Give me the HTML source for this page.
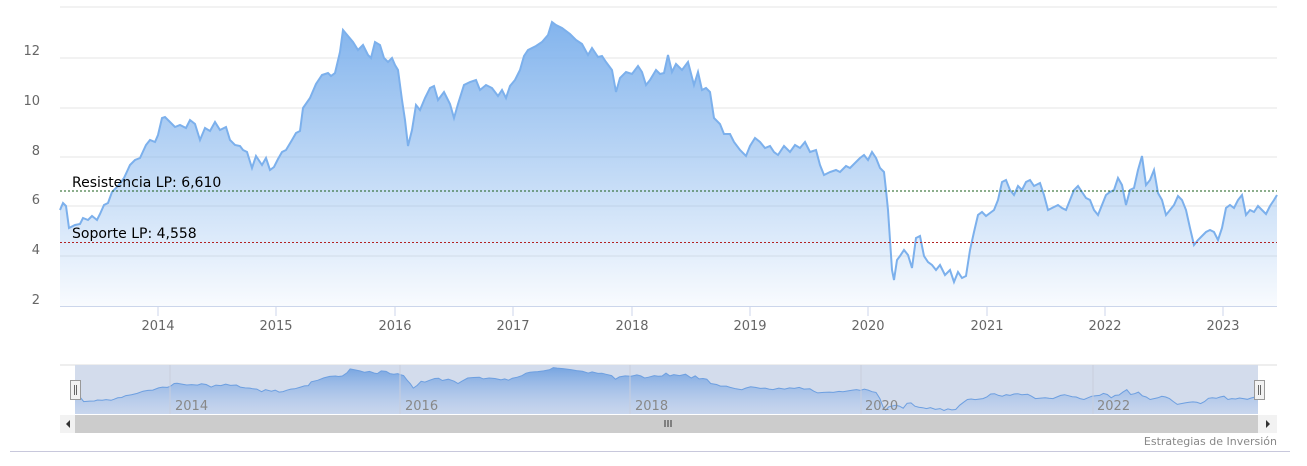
<!DOCTYPE html>
<html><head><meta charset="utf-8"><style>
body{margin:0;background:#fff;font-family:"Liberation Sans","DejaVu Sans",sans-serif}
svg text{font-family:"DejaVu Sans","Liberation Sans",sans-serif}
</style></head><body>
<svg id="s" width="1307" height="461" xmlns="http://www.w3.org/2000/svg">
<defs>
<linearGradient id="g" x1="0" y1="0" x2="0" y2="1"><stop offset="0" stop-color="#7cb0ec" stop-opacity="0.95"/><stop offset="1" stop-color="#7cb0ec" stop-opacity="0.05"/></linearGradient>
<linearGradient id="gn" x1="0" y1="0" x2="0" y2="1"><stop offset="0" stop-color="#6d9fe0" stop-opacity="0.9"/><stop offset="1" stop-color="#b9cdee" stop-opacity="0.4"/></linearGradient>
</defs>
<g stroke="#e6e6e6" stroke-width="1">
<line x1="60" x2="1277" y1="7" y2="7"/><line x1="60" x2="1277" y1="58" y2="58"/><line x1="60" x2="1277" y1="108" y2="108"/><line x1="60" x2="1277" y1="157" y2="157"/><line x1="60" x2="1277" y1="206" y2="206"/><line x1="60" x2="1277" y1="256" y2="256"/>
</g>
<g font-size="13" fill="#666" text-anchor="end">
<text x="40" y="55">12</text><text x="40" y="105">10</text><text x="40" y="155">8</text><text x="40" y="204">6</text><text x="40" y="254">4</text><text x="40" y="304">2</text>
</g>
<path id="area" fill="url(#g)"/>
<path id="line" fill="none" stroke="#7cb0ec" stroke-width="2"/>
<line x1="60" x2="1277" y1="306.5" y2="306.5" stroke="#ccd6eb"/>
<g stroke="#ccd6eb"><line x1="158" x2="158" y1="306" y2="316"/><line x1="276" x2="276" y1="306" y2="316"/><line x1="395" x2="395" y1="306" y2="316"/><line x1="513" x2="513" y1="306" y2="316"/><line x1="632" x2="632" y1="306" y2="316"/><line x1="750" x2="750" y1="306" y2="316"/><line x1="868" x2="868" y1="306" y2="316"/><line x1="987" x2="987" y1="306" y2="316"/><line x1="1105" x2="1105" y1="306" y2="316"/><line x1="1223" x2="1223" y1="306" y2="316"/></g>
<g font-size="13" fill="#666" text-anchor="middle">
<text x="158" y="330">2014</text><text x="276" y="330">2015</text><text x="395" y="330">2016</text><text x="513" y="330">2017</text><text x="632" y="330">2018</text><text x="750" y="330">2019</text><text x="868" y="330">2020</text><text x="987" y="330">2021</text><text x="1105" y="330">2022</text><text x="1223" y="330">2023</text>
</g>
<line x1="60" x2="1277" y1="191" y2="191" stroke="#1a5c1a" stroke-dasharray="2,2"/>
<line x1="60" x2="1277" y1="242.5" y2="242.5" stroke="#b22222" stroke-dasharray="2,2"/>
<text x="72" y="187" font-size="14" fill="#000">Resistencia LP: 6,610</text>
<text x="72" y="238" font-size="14" fill="#000">Soporte LP: 4,558</text>
<!-- navigator -->
<line x1="60" x2="1277" y1="365" y2="365" stroke="#ddd"/>
<rect x="75" y="365" width="1183" height="49" fill="#d3dcec"/>
<path id="narea" fill="url(#gn)"/>
<path id="nline" fill="none" stroke="#6d9fe0" stroke-width="1"/>
<g stroke="#c8cedd"><line x1="170" x2="170" y1="365" y2="414"/><line x1="400" x2="400" y1="365" y2="414"/><line x1="630" x2="630" y1="365" y2="414"/><line x1="861" x2="861" y1="365" y2="414"/><line x1="1093" x2="1093" y1="365" y2="414"/></g>
<g font-size="13" fill="#888"><text x="175" y="410">2014</text><text x="405" y="410">2016</text><text x="635" y="410">2018</text><text x="865" y="410">2020</text><text x="1097" y="410">2022</text></g>
<rect x="70.5" y="380.5" width="10" height="19" fill="#f2f2f2" stroke="#999"/><line x1="74.5" x2="74.5" y1="385" y2="395" stroke="#666"/><line x1="76.5" x2="76.5" y1="385" y2="395" stroke="#666"/>
<rect x="1254.5" y="380.5" width="10" height="19" fill="#f2f2f2" stroke="#999"/><line x1="1258.5" x2="1258.5" y1="385" y2="395" stroke="#666"/><line x1="1260.5" x2="1260.5" y1="385" y2="395" stroke="#666"/>
<rect x="60" y="415" width="1217" height="18" fill="#f2f2f2"/>
<rect x="75" y="415" width="1183" height="18" fill="#cccccc"/>
<path d="M70 420 L66 424 L70 428Z" fill="#333"/><path d="M1266 420 L1270 424 L1266 428Z" fill="#333"/>
<g stroke="#333"><line x1="665" x2="665" y1="420" y2="427"/><line x1="668" x2="668" y1="420" y2="427"/><line x1="671" x2="671" y1="420" y2="427"/></g>
<text x="1277" y="445" font-size="11" fill="#888" text-anchor="end">Estrategias de Inversión</text>
<line x1="10" x2="1290" y1="451.5" y2="451.5" stroke="#c8c8dc"/>
</svg>
<script>
var p=[60,210,63,203,66,206,69,228,75,225,80,224,83,218,88,220,92,216,97,220,100,214,104,205,108,203,112,192,118,186,124,178,130,165,135,160,140,158,146,145,150,140,155,142,158,135,162,118,165,117,170,122,175,127,180,125,186,128,190,120,195,124,200,140,205,128,210,131,215,122,220,130,226,127,230,140,235,145,240,146,243,150,247,152,252,168,256,156,262,165,266,158,270,170,274,167,278,159,282,152,286,150,292,140,296,133,300,131,303,108,310,98,316,84,322,75,328,73,331,76,335,73,340,52,343,30,348,36,353,42,358,50,363,45,368,55,371,58,375,42,380,45,384,58,388,62,392,58,395,65,398,70,402,100,405,120,408,146,412,130,416,105,420,110,425,98,430,88,434,86,438,100,444,92,450,104,454,118,458,104,464,85,470,82,476,80,480,90,486,85,492,88,498,96,502,90,506,98,510,86,515,80,520,70,524,56,528,50,532,48,536,46,542,42,548,35,552,22,556,25,562,28,570,34,576,40,582,44,588,55,592,48,598,57,602,56,606,62,612,70,616,92,620,78,626,72,632,74,638,66,642,72,646,85,650,80,656,70,660,74,664,73,668,55,672,72,676,64,682,70,688,62,694,85,698,72,702,90,706,88,710,92,714,118,720,124,724,134,730,134,734,142,740,150,746,156,750,146,755,138,760,142,765,148,770,146,774,152,778,155,784,146,790,152,795,145,800,148,805,142,810,152,816,150,820,165,824,175,830,172,836,170,840,172,846,166,850,168,856,162,860,158,864,155,868,160,872,152,876,158,880,168,884,172,886,190,888,210,890,240,892,270,894,280,897,260,900,256,904,250,908,255,912,268,916,238,920,236,924,256,928,262,932,265,936,270,940,265,945,275,950,270,954,282,958,272,962,278,966,276,970,250,974,232,978,215,982,212,986,216,990,213,994,210,998,200,1002,182,1006,180,1010,190,1014,195,1018,186,1022,190,1026,182,1030,180,1034,186,1040,183,1044,195,1048,210,1052,208,1058,205,1062,208,1066,210,1070,200,1074,190,1078,186,1082,192,1086,198,1090,200,1094,210,1098,215,1102,205,1106,195,1110,192,1114,190,1118,178,1122,185,1126,205,1130,190,1134,188,1138,170,1142,156,1146,185,1150,180,1154,170,1158,193,1162,200,1166,215,1170,210,1174,205,1178,196,1182,200,1186,210,1190,228,1194,245,1198,240,1202,236,1206,232,1210,230,1214,232,1218,240,1222,228,1226,208,1230,205,1234,208,1238,200,1242,195,1246,215,1250,210,1254,212,1258,206,1262,210,1266,214,1270,206,1274,200,1277,195];
var l="",n="";
for(var i=0;i<p.length;i+=2){var x=p[i],y=p[i+1];l+=(i?"L":"M")+x+" "+y;
var nx=75+(x-60)*1183/1217,ny=364+y*0.165;n+=(i?"L":"M")+nx.toFixed(1)+" "+ny.toFixed(1);}
document.getElementById("line").setAttribute("d",l);
document.getElementById("area").setAttribute("d",l+"L1277 306L60 306Z");
document.getElementById("nline").setAttribute("d",n);
document.getElementById("narea").setAttribute("d",n+"L1258 414L75 414Z");
</script>
</body></html>
